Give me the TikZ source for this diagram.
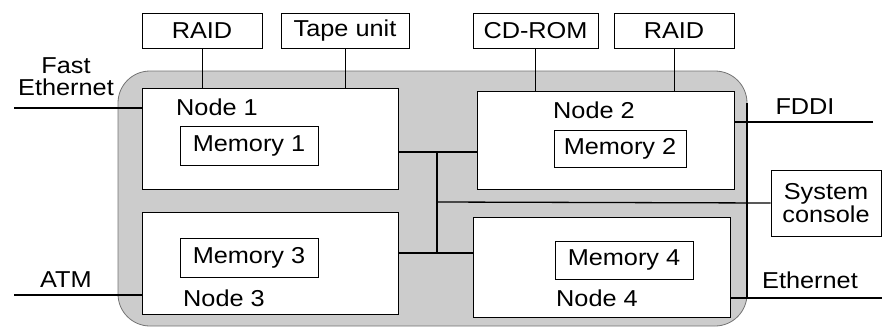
\documentclass[tikz,border=0pt]{standalone}
\usepackage{fontspec}
\setmainfont{Liberation Sans}[FakeStretch=1.1]
\begin{document}
\begin{tikzpicture}[x=1pt,y=-1pt,
  box/.style={draw, line width=1pt, fill=white, inner sep=0pt, font=\fontsize{23}{26}\selectfont},
  lbl/.style={inner sep=0pt, font=\fontsize{23}{26}\selectfont, align=center},
  net/.style={line width=2pt},
  bus/.style={line width=1.3pt},
  thin/.style={line width=1pt}]
\useasboundingbox (0,0) rectangle (882,327);
% gray enclosure
\fill[fill=black!20, draw=black!55, line width=0.8pt, rounded corners=32pt] (118,71) rectangle (747,326);
% devices on top
\node[box, minimum width=120pt, minimum height=35pt] (raidA) at (202,30.5) {RAID};
\node[box, minimum width=128pt, minimum height=35pt] (tape) at (345,30.5) {Tape unit};
\node[box, minimum width=125pt, minimum height=35pt] (cdrom) at (535.5,30.5) {CD-ROM};
\node[box, minimum width=120pt, minimum height=35pt] (raidB) at (674,30.5) {RAID};
% processing nodes
\node[box, minimum width=256pt, minimum height=101pt] (n1) at (270,138.5) {};
\node[box, minimum width=257pt, minimum height=98pt] (n2) at (605.5,140) {};
\node[box, minimum width=256pt, minimum height=102pt] (n3) at (270,263) {};
\node[box, minimum width=257pt, minimum height=100pt] (n4) at (601.5,267) {};
% memories
\node[box, minimum width=138pt, minimum height=39pt] (m1) at (249,145.5) {Memory 1};
\node[box, minimum width=132pt, minimum height=37pt] (m2) at (620,148.5) {Memory 2};
\node[box, minimum width=138pt, minimum height=39pt] (m3) at (249,257.5) {Memory 3};
\node[box, minimum width=138pt, minimum height=38pt] (m4) at (624,260) {Memory 4};
% node labels
\node[lbl] (l1) at (217,107.5) {Node 1};
\node[lbl] (l2) at (594,110) {Node 2};
\node[lbl] (l3) at (224,298) {Node 3};
\node[lbl] (l4) at (597,298) {Node 4};
% system console
\node[box, minimum width=110pt, minimum height=66pt, align=center] (sc) at (826,203) {System\\[-3pt]console};
% external network labels
\node[lbl] (tfe) at (66,77) {Fast\\[-4pt]Ethernet};
\node[lbl] (tatm) at (66,280) {ATM};
\node[lbl] (tfddi) at (805,107) {FDDI};
\node[lbl] (teth) at (810,280) {Ethernet};
% free ends of network lines
\coordinate (fe) at (14,108);
\coordinate (atm) at (14,295);
\coordinate (fddi) at (873,122);
\coordinate (eth) at (882,298);
\coordinate (rtop) at (747,103);
\coordinate (rbot) at (747,298);
\coordinate (bj) at (437,152);
\coordinate (bk) at (437,253);
\coordinate (bm) at (437,202);
% device connectors
\draw[thin] (raidA.south) -- (raidA.south |- n1.north);
\draw[thin] (tape.south) -- (tape.south |- n1.north);
\draw[thin] (cdrom.south) -- (cdrom.south |- n2.north);
\draw[thin] (raidB.south) -- (raidB.south |- n2.north);
% network lines
\draw[net] (fe) -- (fe -| n1.west);
\draw[net] (atm) -- (atm -| n3.west);
\draw[net] (fddi) -- (fddi -| n2.east);
\draw[net] (eth) -- (eth -| n4.east);
\draw[line width=1.5pt] (rtop) -- (rbot);
% interconnect
\draw[bus] (bj -| n1.east) -- (bj -| n2.west);
\draw[bus] (bj) -- (bk);
\draw[bus] (bk -| n3.east) -- (bk -| n4.west);
\draw[bus] (bm) -- (sc.west);
\end{tikzpicture}
\end{document}
